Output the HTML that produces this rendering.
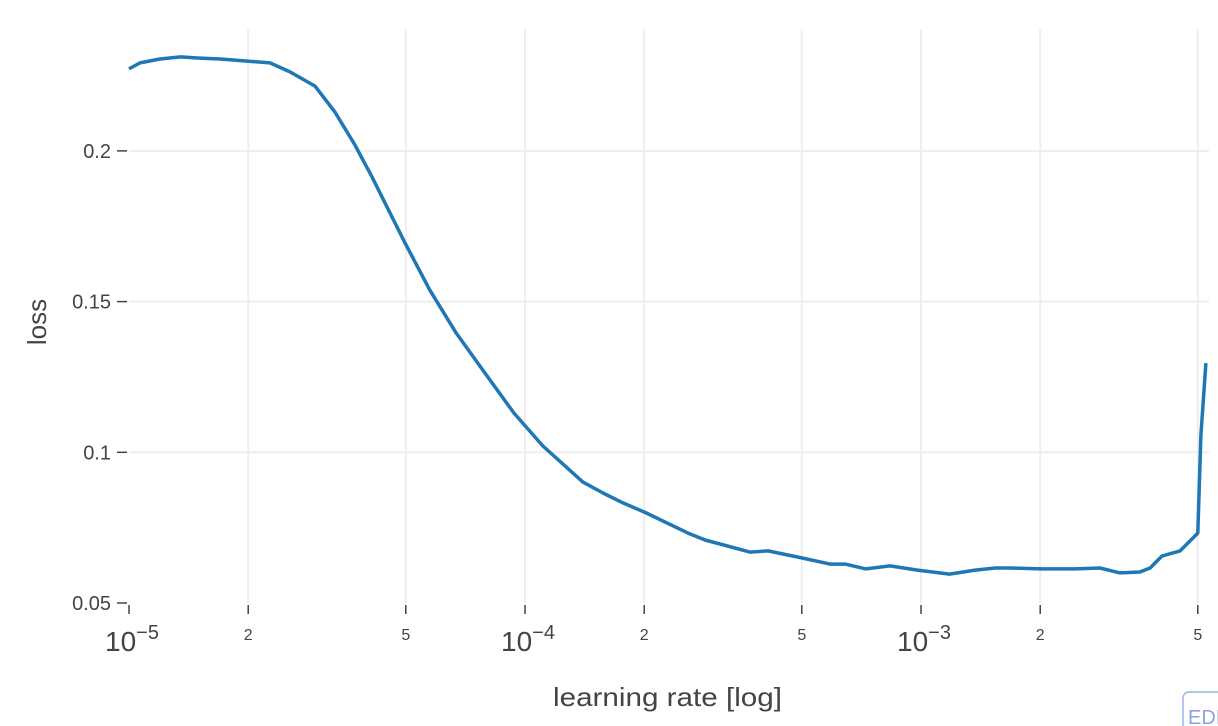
<!DOCTYPE html>
<html><head><meta charset="utf-8"><style>
html,body{margin:0;padding:0;background:#fff;width:1218px;height:726px;overflow:hidden}
svg{display:block;font-family:"Liberation Sans",sans-serif}
</style></head><body>
<svg id="chart" width="1218" height="726">
<g id="grid"></g>
<g id="axes"></g>
<path id="line" fill="none" stroke="#1f77b4" stroke-width="3.5" stroke-linejoin="round"></path>
<text x="553" y="706" font-size="26" fill="#444" textLength="229" lengthAdjust="spacingAndGlyphs">learning rate [log]</text>
<text transform="translate(46,322) rotate(-90)" text-anchor="middle" font-size="26" fill="#444">loss</text>
<g><rect x="1183" y="692" width="60" height="40" rx="6" fill="#fff" stroke="#a0b4e8" stroke-width="1.5"></rect><text x="1188" y="724" font-size="20" fill="#8aa2e0">EDIT</text></g>
</svg>
<script>
const learningRates=[1e-5,1.066e-5,1.197e-5,1.35e-5,1.51e-5,1.70e-5,1.99e-5,2.27e-5,2.55e-5,2.95e-5,3.31e-5,3.72e-5,4.11e-5,4.98e-5,5.75e-5,6.70e-5,7.92e-5,9.38e-5,1.11e-4,1.40e-4,1.574e-4,1.768e-4,2.0e-4,2.58e-4,2.85e-4,3.70e-4,4.11e-4,5.03e-4,5.89e-4,6.43e-4,7.26e-4,8.35e-4,9.8e-4,1.18e-3,1.37e-3,1.54e-3,1.68e-3,2.01e-3,2.45e-3,2.83e-3,3.18e-3,3.57e-3,3.79e-3,4.06e-3,4.51e-3,5.0e-3,5.09e-3,5.24e-3];
const losses=[0.2272,0.2292,0.2305,0.2312,0.2308,0.2305,0.2298,0.2292,0.2262,0.2215,0.2129,0.2020,0.1913,0.1694,0.1538,0.1396,0.1263,0.1130,0.1021,0.0901,0.0865,0.0832,0.0802,0.0732,0.0709,0.0669,0.0673,0.0649,0.0629,0.0629,0.0613,0.0623,0.0609,0.0596,0.0609,0.0616,0.0616,0.0613,0.0613,0.0616,0.0600,0.0603,0.0616,0.0656,0.0673,0.0732,0.1057,0.1296];
const yTicks=[0.05,0.1,0.15,0.2];
const yTickLabels=["0.05","0.1","0.15","0.2"];
const xDecades=[-5,-4,-3];
const xMinor=[2,5];

const X0=129,PXD=396,Y0=603,PXU=3014,L=129,R=1209,T=29;
const xs=v=>X0+(Math.log10(v)+5)*PXD;
const ys=v=>Y0-(v-0.05)*PXU;
const NS="http://www.w3.org/2000/svg";
function mk(tag,attrs,parent,text){const e=document.createElementNS(NS,tag);for(const k in attrs)e.setAttribute(k,attrs[k]);if(text!==undefined)e.textContent=text;parent.appendChild(e);return e;}
const grid=document.getElementById('grid'),axes=document.getElementById('axes');
yTicks.forEach((t,i)=>{const y=ys(t);
 if(i>0){const g=mk('line',{x1:L,x2:R,y1:y,y2:y,stroke:'#eee','stroke-width':2},grid);
 
 }
 const tk=mk('line',{x1:117,x2:127,y1:y,y2:y,stroke:'#444','stroke-width':1.5},axes);
 
 
 const lb=mk('text',{x:111,y:y+7,'text-anchor':'end','font-size':20,fill:'#444'},axes,yTickLabels[i]);
 
 
});
function xtick(v,label,major){const x=xs(v);
 if(x>R+1)return;
 if(x>L+1){const g=mk('line',{x1:x,x2:x,y1:T,y2:Y0,stroke:'#eee','stroke-width':2},grid);
 
 }
 const tk=mk('line',{x1:x,x2:x,y1:605,y2:614,stroke:'#444','stroke-width':1.5},axes);
 
 
 if(major){const t=mk('text',{x:x+3,y:651,'text-anchor':'middle','font-size':28,fill:'#444'},axes);
  
  
  mk('tspan',{},t,'10');mk('tspan',{dy:-12,'font-size':20},t,'\u2212'+label);
 }else{const t=mk('text',{x:x,y:640,'text-anchor':'middle','font-size':16,fill:'#444'},axes,label);
  
  }
}
xDecades.forEach(d=>{xtick(Math.pow(10,d),String(-d),true);xMinor.forEach(m=>xtick(m*Math.pow(10,d),String(m),false));});
document.getElementById('line').setAttribute('d',learningRates.map((v,i)=>(i?'L':'M')+xs(v).toFixed(1)+','+ys(losses[i]).toFixed(1)).join(''));
</script>
</body></html>
